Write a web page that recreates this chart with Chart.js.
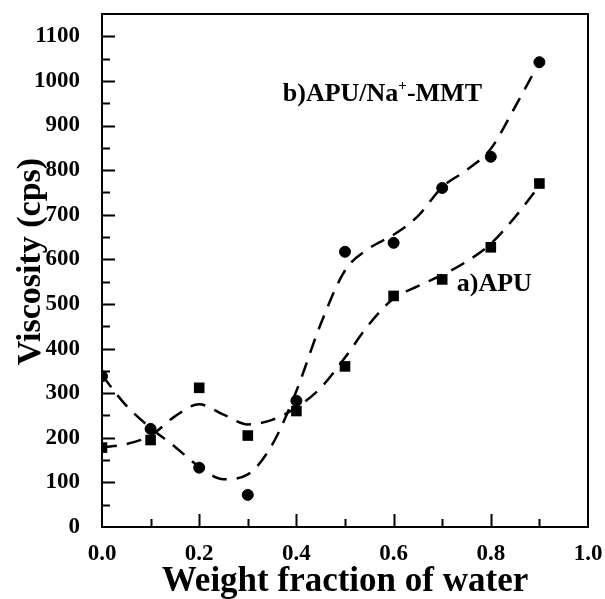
<!DOCTYPE html>
<html>
<head>
<meta charset="utf-8">
<title>Viscosity vs weight fraction of water</title>
<script src="https://cdn.jsdelivr.net/npm/chart.js@4.4.0/dist/chart.umd.min.js"></script>
<style>
  html, body { margin: 0; padding: 0; background: #fff; }
  #wrap { width: 605px; height: 599px; }
</style>
</head>
<body>
<div id="wrap"><canvas id="viscChart" width="605" height="599"></canvas></div>
<script>
// measured points
const waterFraction = [0.0, 0.1, 0.2, 0.3, 0.4, 0.5, 0.6, 0.7, 0.8, 0.9];
const apuVisc = [178, 195, 312, 205, 260, 360, 518, 555, 627, 770];
const mmtVisc = [338, 220, 133, 72, 283, 617, 637, 760, 830, 1042];

// dashed fit curves
const curveX = [0, 0.05, 0.1, 0.15, 0.2, 0.25, 0.3, 0.35, 0.4, 0.45,
                0.5, 0.55, 0.6, 0.65, 0.7, 0.75, 0.8, 0.85, 0.9];
const apuCurve = [178, 186, 205, 248, 275, 252, 230, 240, 268, 312,
                  380, 455, 512, 540, 565, 595, 635, 695, 765];
const mmtCurve = [340, 272, 222, 180, 135, 107, 118, 184, 305, 455,
                  575, 625, 655, 697, 762, 800, 848, 942, 1042];

const xTicks = [0, 0.2, 0.4, 0.6, 0.8, 1.0];
const yTicks = [0, 100, 200, 300, 400, 500, 600, 700, 800, 900, 1000, 1100];
const seriesLabels = ['a)APU', 'b)APU/Na+-MMT'];
const yTitle = 'Viscosity (cps)';

const serif = "'Liberation Serif', 'Times New Roman', serif";

function pts(xs, ys) {
  return xs.map((x, i) => ({ x: x, y: ys[i] }));
}

// box, inward ticks, y title and the two curve labels
const framePlugin = {
  id: 'frame',
  afterDraw(chart) {
    const ctx = chart.ctx;
    const a = chart.chartArea;
    const x = chart.scales.x;
    const y = chart.scales.y;
    ctx.save();
    ctx.strokeStyle = '#000';
    ctx.lineWidth = 2;
    ctx.strokeRect(a.left, a.top, a.right - a.left, a.bottom - a.top);

    ctx.beginPath();
    for (let v = 50; v < 1150; v += 50) {
      const py = Math.round(y.getPixelForValue(v)) + 0.5;
      const len = v % 100 === 0 ? 13 : 8;
      ctx.moveTo(a.left, py);
      ctx.lineTo(a.left + len, py);
    }
    for (let i = 1; i < 10; i++) {
      const px = Math.round(x.getPixelForValue(i / 10)) + 0.5;
      const len = i % 2 === 0 ? 13 : 8;
      ctx.moveTo(px, a.bottom);
      ctx.lineTo(px, a.bottom - len);
    }
    ctx.stroke();

    ctx.fillStyle = '#000';

    // y axis title, a bit above the middle like the original
    ctx.save();
    ctx.translate(31, y.getPixelForValue(595));
    ctx.rotate(-Math.PI / 2);
    ctx.textAlign = 'center';
    ctx.textBaseline = 'middle';
    ctx.font = 'bold 34px ' + serif;
    ctx.fillText(yTitle, 0, 0);
    ctx.restore();

    ctx.textBaseline = 'alphabetic';
    ctx.textAlign = 'left';
    // b)APU/Na+-MMT
    let tx = x.getPixelForValue(0.372);
    const ty = y.getPixelForValue(955);
    ctx.font = 'bold 26px ' + serif;
    ctx.fillText('b)APU/Na', tx, ty);
    tx += ctx.measureText('b)APU/Na').width;
    ctx.font = 'bold 15px ' + serif;
    ctx.fillText('+', tx, ty - 11);
    tx += ctx.measureText('+').width;
    ctx.font = 'bold 26px ' + serif;
    ctx.fillText('-MMT', tx, ty);
    // a)APU
    ctx.fillText(seriesLabels[0], x.getPixelForValue(0.730), y.getPixelForValue(529));
    ctx.restore();
  }
};

const ctx = document.getElementById('viscChart').getContext('2d');
const chart = new Chart(ctx, {
  type: 'line',
  data: {
    datasets: [
      {
        label: seriesLabels[0] + ' fit',
        data: pts(curveX, apuCurve),
        borderColor: '#000',
        borderWidth: 2.5,
        borderDash: [15, 10],
        pointRadius: 0,
        fill: false,
        cubicInterpolationMode: 'monotone'
      },
      {
        label: seriesLabels[1] + ' fit',
        data: pts(curveX, mmtCurve),
        borderColor: '#000',
        borderWidth: 2.5,
        borderDash: [15, 10],
        pointRadius: 0,
        fill: false,
        cubicInterpolationMode: 'monotone'
      },
      {
        label: seriesLabels[0],
        data: pts(waterFraction, apuVisc),
        showLine: false,
        pointStyle: 'rect',
        pointRadius: 7.5,
        pointBackgroundColor: '#000',
        pointBorderColor: '#000',
        pointBorderWidth: 0
      },
      {
        label: seriesLabels[1],
        data: pts(waterFraction, mmtVisc),
        showLine: false,
        pointStyle: 'circle',
        pointRadius: 5.5,
        pointBackgroundColor: '#000',
        pointBorderColor: '#000',
        pointBorderWidth: 1
      }
    ]
  },
  options: {
    responsive: false,
    animation: false,
    events: [],
    layout: { padding: { top: 14, right: 17, bottom: 0, left: 0 } },
    plugins: {
      legend: { display: false },
      tooltip: { enabled: false }
    },
    scales: {
      x: {
        type: 'linear',
        min: 0,
        max: 1,
        afterFit(s) {
          s.height = 72;
          s.paddingLeft = 0;
          s.paddingRight = 0;
        },
        afterBuildTicks(s) { s.ticks = xTicks.map(v => ({ value: v })); },
        grid: { display: false },
        border: { display: false },
        ticks: {
          color: '#000',
          padding: 5,
          maxRotation: 0,
          font: { family: serif, size: 23, weight: 'bold' },
          callback: v => v.toFixed(1)
        },
        title: {
          display: true,
          text: 'Weight fraction of water',
          color: '#000',
          padding: { top: 0, bottom: 0 },
          font: { family: serif, size: 35, weight: 'bold', lineHeight: 1 }
        }
      },
      y: {
        type: 'linear',
        min: 0,
        max: 1150,
        afterFit(s) {
          s.width = 102;
          s.paddingTop = 0;
          s.paddingBottom = 0;
        },
        afterBuildTicks(s) { s.ticks = yTicks.map(v => ({ value: v })); },
        grid: { display: false },
        border: { display: false },
        ticks: {
          color: '#000',
          padding: 14,
          font: { family: serif, size: 23, weight: 'bold' },
          callback: v => String(v)
        }
      }
    }
  },
  plugins: [framePlugin]
});
</script>
</body>
</html>
